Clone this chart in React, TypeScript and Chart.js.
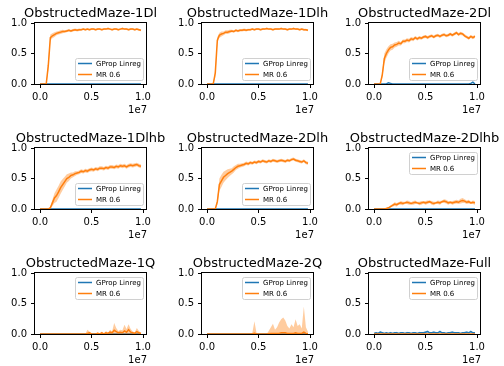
import React, { useEffect, useRef } from "react";
import { Chart, registerables } from "chart.js";

Chart.register(...registerables);

// x positions, in millions of environment steps
const STEPS_M = [
  0, 0.2, 0.4, 0.6, 0.8, 1, 1.2, 1.4, 1.6, 1.8,
  2, 2.2, 2.4, 2.6, 2.8, 3, 3.2, 3.4, 3.6, 3.8,
  4, 4.2, 4.4, 4.6, 4.8, 5, 5.2, 5.4, 5.6, 5.8,
  6, 6.2, 6.4, 6.6, 6.8, 7, 7.2, 7.4, 7.6, 7.8,
  8, 8.2, 8.4, 8.6, 8.8, 9, 9.2, 9.4, 9.6, 9.8,
];

const TITLES = [
  "ObstructedMaze-1Dl",
  "ObstructedMaze-1Dlh",
  "ObstructedMaze-2Dl",
  "ObstructedMaze-1Dlhb",
  "ObstructedMaze-2Dlh",
  "ObstructedMaze-2Dlhb",
  "ObstructedMaze-1Q",
  "ObstructedMaze-2Q",
  "ObstructedMaze-Full",
];
const LEGEND_LOC = ["lower", "lower", "lower", "lower", "lower", "upper", "upper", "upper", "upper"];
const GP_LABEL = "GProp Linreg";
const MR_LABEL = "MR 0.6";
const X_TICKS = [0, 5e6, 1e7];
const Y_TICKS = [0, 0.5, 1];
const X_OFFSET_TEXT = "1e7";

const ZEROS = [
  0, 0, 0, 0, 0, 0, 0, 0, 0, 0,
  0, 0, 0, 0, 0, 0, 0, 0, 0, 0,
  0, 0, 0, 0, 0, 0, 0, 0, 0, 0,
  0, 0, 0, 0, 0, 0, 0, 0, 0, 0,
  0, 0, 0, 0, 0, 0, 0, 0, 0, 0,
];

const MR_1DL = [
  0, 0, 0, 0, 0.3, 0.76, 0.79, 0.81, 0.83, 0.84,
  0.85, 0.86, 0.86, 0.87, 0.88, 0.87, 0.88, 0.89, 0.88, 0.89,
  0.89, 0.9, 0.89, 0.9, 0.89, 0.9, 0.9, 0.89, 0.9, 0.9,
  0.89, 0.9, 0.9, 0.91, 0.9, 0.89, 0.9, 0.9, 0.89, 0.9,
  0.91, 0.9, 0.9, 0.89, 0.9, 0.9, 0.89, 0.9, 0.89, 0.88,
];
const MR_1DL_STD = [
  0, 0, 0, 0, 0.08, 0.05, 0.04, 0.04, 0.03, 0.03,
  0.03, 0.03, 0.02, 0.02, 0.02, 0.02, 0.02, 0.02, 0.02, 0.02,
  0.015, 0.015, 0.015, 0.015, 0.015, 0.015, 0.015, 0.015, 0.015, 0.015,
  0.015, 0.015, 0.015, 0.015, 0.015, 0.015, 0.015, 0.015, 0.015, 0.015,
  0.015, 0.015, 0.015, 0.015, 0.015, 0.015, 0.015, 0.015, 0.015, 0.015,
];

const MR_1DLH = [
  0, 0, 0, 0, 0.18, 0.72, 0.8, 0.82, 0.83, 0.85,
  0.85, 0.86, 0.87, 0.86, 0.88, 0.87, 0.88, 0.88, 0.89, 0.88,
  0.89, 0.89, 0.9, 0.89, 0.9, 0.9, 0.89, 0.9, 0.9, 0.91,
  0.9, 0.9, 0.89, 0.9, 0.9, 0.9, 0.91, 0.9, 0.9, 0.89,
  0.9, 0.9, 0.91, 0.9, 0.9, 0.89, 0.9, 0.89, 0.89, 0.88,
];
const MR_1DLH_STD = [
  0, 0, 0, 0, 0.07, 0.05, 0.04, 0.04, 0.03, 0.03,
  0.03, 0.03, 0.02, 0.02, 0.02, 0.02, 0.02, 0.02, 0.02, 0.02,
  0.015, 0.015, 0.015, 0.015, 0.015, 0.015, 0.015, 0.015, 0.015, 0.015,
  0.015, 0.015, 0.015, 0.015, 0.015, 0.015, 0.015, 0.015, 0.015, 0.015,
  0.015, 0.015, 0.015, 0.015, 0.015, 0.015, 0.015, 0.015, 0.015, 0.015,
];

const MR_2DL = [
  0, 0, 0, 0, 0.15, 0.42, 0.5, 0.56, 0.6, 0.61,
  0.64, 0.65, 0.67, 0.66, 0.7, 0.7, 0.72, 0.71, 0.74, 0.73,
  0.76, 0.74, 0.76, 0.75, 0.77, 0.78, 0.76, 0.78, 0.79, 0.77,
  0.79, 0.8, 0.78, 0.8, 0.81, 0.79, 0.8, 0.82, 0.8, 0.82,
  0.84, 0.81, 0.83, 0.82, 0.79, 0.77, 0.75, 0.78, 0.76, 0.78,
];
const MR_2DL_STD = [
  0, 0, 0, 0, 0.05, 0.08, 0.07, 0.06, 0.05, 0.05,
  0.04, 0.04, 0.04, 0.03, 0.03, 0.03, 0.03, 0.03, 0.03, 0.03,
  0.025, 0.025, 0.025, 0.025, 0.025, 0.025, 0.025, 0.025, 0.025, 0.025,
  0.025, 0.025, 0.025, 0.025, 0.025, 0.025, 0.025, 0.025, 0.025, 0.025,
  0.025, 0.025, 0.025, 0.025, 0.025, 0.025, 0.025, 0.025, 0.025, 0.025,
];
const GP_2DL = [
  0, 0, 0, 0, 0, 0, 0, 0.02, 0.01, 0,
  0, 0, 0, 0, 0, 0, 0, 0, 0, 0,
  0, 0, 0, 0, 0, 0, 0, 0, 0, 0,
  0, 0, 0, 0, 0, 0, 0, 0, 0, 0,
  0, 0, 0, 0, 0, 0, 0, 0.01, 0.03, 0,
];

const MR_1DLHB = [
  0, 0, 0, 0, 0, 0.02, 0.1, 0.18, 0.22, 0.28,
  0.35, 0.4, 0.45, 0.5, 0.52, 0.55, 0.56, 0.58, 0.59, 0.6,
  0.62, 0.61, 0.63, 0.62, 0.64, 0.65, 0.64, 0.66, 0.65, 0.67,
  0.67, 0.66, 0.68, 0.67, 0.69, 0.69, 0.68, 0.7, 0.69, 0.71,
  0.7, 0.71, 0.69, 0.71, 0.72, 0.71, 0.72, 0.73, 0.71, 0.7,
];
const MR_1DLHB_STD = [
  0, 0, 0, 0, 0, 0.02, 0.05, 0.08, 0.1, 0.1,
  0.1, 0.09, 0.08, 0.07, 0.06, 0.05, 0.04, 0.04, 0.03, 0.03,
  0.03, 0.03, 0.03, 0.03, 0.03, 0.03, 0.03, 0.03, 0.03, 0.03,
  0.03, 0.03, 0.03, 0.03, 0.03, 0.03, 0.03, 0.03, 0.03, 0.03,
  0.03, 0.03, 0.03, 0.03, 0.03, 0.03, 0.03, 0.03, 0.03, 0.03,
];

const MR_2DLH = [
  0, 0, 0, 0, 0, 0.12, 0.4, 0.46, 0.52, 0.55,
  0.58, 0.6, 0.62, 0.65, 0.68, 0.7, 0.71, 0.72, 0.73, 0.75,
  0.74, 0.76, 0.75, 0.77, 0.76, 0.78, 0.77, 0.79, 0.78, 0.77,
  0.79, 0.78, 0.8, 0.79, 0.78, 0.79, 0.8, 0.79, 0.78, 0.8,
  0.79, 0.81, 0.82, 0.8, 0.79, 0.78, 0.77, 0.79, 0.76, 0.75,
];
const MR_2DLH_STD = [
  0, 0, 0, 0, 0, 0.05, 0.1, 0.1, 0.09, 0.08,
  0.07, 0.06, 0.05, 0.05, 0.04, 0.04, 0.03, 0.03, 0.03, 0.03,
  0.025, 0.025, 0.025, 0.025, 0.025, 0.025, 0.025, 0.025, 0.025, 0.025,
  0.025, 0.025, 0.025, 0.025, 0.025, 0.025, 0.025, 0.025, 0.025, 0.025,
  0.025, 0.025, 0.025, 0.025, 0.025, 0.025, 0.025, 0.025, 0.025, 0.025,
];

const MR_2DLHB = [
  0, 0, 0, 0, 0, 0, 0.01, 0.02, 0.04, 0.06,
  0.08, 0.07, 0.09, 0.1, 0.09, 0.1, 0.11, 0.1, 0.09, 0.1,
  0.11, 0.1, 0.09, 0.1, 0.11, 0.1, 0.11, 0.12, 0.1, 0.09,
  0.1, 0.11, 0.1, 0.12, 0.13, 0.12, 0.1, 0.11, 0.1, 0.11,
  0.12, 0.11, 0.13, 0.14, 0.13, 0.11, 0.12, 0.1, 0.11, 0.1,
];
const MR_2DLHB_STD = [
  0, 0, 0, 0, 0, 0, 0.01, 0.01, 0.02, 0.02,
  0.03, 0.03, 0.02, 0.03, 0.03, 0.02, 0.03, 0.03, 0.02, 0.03,
  0.03, 0.02, 0.03, 0.03, 0.02, 0.03, 0.03, 0.02, 0.03, 0.03,
  0.02, 0.03, 0.03, 0.02, 0.03, 0.03, 0.03, 0.02, 0.03, 0.03,
  0.03, 0.03, 0.04, 0.04, 0.03, 0.03, 0.03, 0.02, 0.03, 0.03,
];

const MR_1Q = [
  0, 0, 0, 0, 0, 0, 0, 0, 0, 0,
  0, 0, 0, 0, 0, 0, 0, 0, 0, 0,
  0, 0, 0, 0.01, 0.02, 0, 0, 0, 0.01, 0,
  0.02, 0, 0.02, 0.01, 0.03, 0.02, 0.06, 0.04, 0.02, 0.03,
  0.02, 0.05, 0.03, 0.07, 0.03, 0.02, 0.01, 0.04, 0.02, 0.01,
];
const MR_1Q_STD = [
  0, 0, 0, 0, 0, 0, 0, 0, 0, 0,
  0, 0, 0, 0, 0, 0, 0, 0, 0, 0,
  0, 0, 0, 0.06, 0.02, 0, 0, 0, 0.02, 0,
  0.02, 0, 0.03, 0.01, 0.04, 0.02, 0.12, 0.06, 0.03, 0.04,
  0.04, 0.1, 0.05, 0.09, 0.05, 0.02, 0.02, 0.06, 0.03, 0.01,
];

const MR_2Q = [
  0, 0, 0, 0, 0, 0, 0, 0, 0, 0,
  0, 0, 0, 0, 0, 0, 0, 0, 0, 0,
  0, 0, 0, 0.01, 0, 0, 0, 0, 0, 0,
  0.005, 0.01, 0.01, 0.01, 0.01, 0.01, 0.02, 0.02, 0.02, 0.01,
  0.01, 0.01, 0.01, 0.02, 0.01, 0.01, 0.01, 0.03, 0.01, 0.005,
];
const MR_2Q_STD = [
  0, 0, 0, 0, 0, 0, 0, 0, 0, 0,
  0, 0, 0, 0, 0, 0, 0, 0, 0, 0,
  0, 0, 0.02, 0.2, 0.02, 0, 0, 0, 0, 0,
  0.05, 0.1, 0.16, 0.06, 0.1, 0.18, 0.22, 0.25, 0.2, 0.12,
  0.08, 0.15, 0.1, 0.22, 0.12, 0.15, 0.08, 0.42, 0.1, 0.03,
];

const GP_FULL = [
  0.01, 0.02, 0.01, 0.03, 0.02, 0.01, 0.02, 0.01, 0.02, 0.01,
  0.02, 0.02, 0.01, 0.02, 0.02, 0.01, 0.02, 0.02, 0.01, 0.02,
  0.02, 0.01, 0.02, 0.02, 0.02, 0.03, 0.04, 0.02, 0.02, 0.03,
  0.02, 0.02, 0.04, 0.02, 0.02, 0.01, 0.02, 0.02, 0.03, 0.02,
  0.02, 0.02, 0.01, 0.02, 0.02, 0.03, 0.02, 0.04, 0.02, 0.02,
];
const GP_FULL_STD = [
  0.01, 0.01, 0.01, 0.015, 0.01, 0.01, 0.01, 0.01, 0.015, 0.01,
  0.01, 0.015, 0.01, 0.01, 0.01, 0.01, 0.015, 0.01, 0.01, 0.01,
  0.01, 0.01, 0.015, 0.01, 0.01, 0.015, 0.02, 0.01, 0.01, 0.015,
  0.01, 0.01, 0.02, 0.01, 0.01, 0.01, 0.01, 0.015, 0.015, 0.01,
  0.01, 0.01, 0.01, 0.01, 0.015, 0.015, 0.01, 0.02, 0.01, 0.01,
];

// per-subplot series: [GProp mean, GProp std, MR mean, MR std]
const SERIES = [
  [ZEROS, ZEROS, MR_1DL, MR_1DL_STD],
  [ZEROS, ZEROS, MR_1DLH, MR_1DLH_STD],
  [GP_2DL, ZEROS, MR_2DL, MR_2DL_STD],
  [ZEROS, ZEROS, MR_1DLHB, MR_1DLHB_STD],
  [ZEROS, ZEROS, MR_2DLH, MR_2DLH_STD],
  [ZEROS, ZEROS, MR_2DLHB, MR_2DLHB_STD],
  [ZEROS, ZEROS, MR_1Q, MR_1Q_STD],
  [ZEROS, ZEROS, MR_2Q, MR_2Q_STD],
  [GP_FULL, GP_FULL_STD, ZEROS, ZEROS],
];

const BLUE = "#1f77b4";
const BLUE_FILL = "rgba(31,119,180,0.3)";
const ORANGE = "#ff7f0e";
const ORANGE_FILL = "rgba(255,127,14,0.4)";
const FONT = "DejaVu Sans";

const CELL_W = 167;
const CELL_H = 125;

const pts = (vals: number[], std: number[] | null, sign: number) =>
  vals.map((v, i) => ({ x: STEPS_M[i] * 1e6, y: std ? v + sign * std[i] : v }));

const decorPlugin = {
  id: "decor",
  afterDatasetsDraw(chart: any, _args: any, opts: any) {
    const { ctx } = chart;
    const { left, top, right, bottom } = chart.chartArea;
    ctx.save();
    // spines
    ctx.strokeStyle = "#000";
    ctx.lineWidth = 1;
    ctx.strokeRect(left - 0.5, top - 0.5, right - left + 1, bottom - top + 1);

    // legend
    const items = chart.data.datasets.filter((d: any) => d.label);
    const boxW = 68;
    const boxH = 22;
    const bx = right - 3 - boxW;
    const by = opts.legend === "upper" ? top + 4 : bottom - 4 - boxH;
    ctx.beginPath();
    ctx.roundRect(bx + 0.5, by + 0.5, boxW, boxH, 2);
    ctx.fillStyle = "rgba(255,255,255,0.8)";
    ctx.fill();
    ctx.strokeStyle = "#d0d0d0";
    ctx.lineWidth = 1;
    ctx.stroke();
    ctx.font = `7px "${FONT}"`;
    ctx.textAlign = "left";
    ctx.textBaseline = "middle";
    items.forEach((d: any, i: number) => {
      const ly = by + 5.5 + i * 11;
      ctx.beginPath();
      ctx.moveTo(bx + 3, ly);
      ctx.lineTo(bx + 17, ly);
      ctx.strokeStyle = d.borderColor;
      ctx.lineWidth = 1.5;
      ctx.stroke();
      ctx.fillStyle = "#000";
      ctx.fillText(d.label, bx + 21, ly + 0.5);
    });

    // title
    ctx.fillStyle = "#000";
    ctx.font = `13px "${FONT}"`;
    ctx.textAlign = "center";
    ctx.textBaseline = "alphabetic";
    ctx.fillText(opts.title, (left + right) / 2, top - 6);

    // offset text
    ctx.font = `10px "${FONT}"`;
    ctx.textAlign = "right";
    ctx.fillText(X_OFFSET_TEXT, right + 1, bottom + 29);
    ctx.restore();
  },
};

function SubPlot({ index }: { index: number }) {
  const ref = useRef<HTMLCanvasElement | null>(null);
  useEffect(() => {
    if (!ref.current) return;
    const [gp, gpStd, mr, mrStd] = SERIES[index];
    const line = (color: string) => ({
      borderColor: color,
      borderWidth: 1.5,
      pointRadius: 0,
      fill: false,
      tension: 0,
    });
    const band = (color: string, fill: any) => ({
      label: "",
      borderWidth: 0,
      borderColor: "rgba(0,0,0,0)",
      backgroundColor: color,
      pointRadius: 0,
      fill,
      tension: 0,
    });
    const tickFont = { family: FONT, size: 10 };
    const chart = new Chart(ref.current, {
      type: "line",
      data: {
        datasets: [
          { ...line(BLUE), label: GP_LABEL, data: pts(gp, null, 0), order: 4 },
          { ...band(BLUE_FILL, "+1"), data: pts(gp, gpStd, 1), order: 5 },
          { ...band(BLUE_FILL, false), data: pts(gp, gpStd, -1), order: 6 },
          { ...line(ORANGE), label: MR_LABEL, data: pts(mr, null, 0), order: 1 },
          { ...band(ORANGE_FILL, "+1"), data: pts(mr, mrStd, 1), order: 2 },
          { ...band(ORANGE_FILL, false), data: pts(mr, mrStd, -1), order: 3 },
        ] as any,
      },
      options: {
        responsive: false,
        animation: false,
        devicePixelRatio: 1,
        layout: { padding: { top: 23, right: CELL_W - 146, left: 0, bottom: 0 } },
        plugins: {
          legend: { display: false },
          tooltip: { enabled: false },
          title: { display: false },
          decor: { title: TITLES[index], legend: LEGEND_LOC[index] },
        } as any,
        scales: {
          x: {
            type: "linear",
            min: -0.049e7,
            max: 1.029e7,
            afterBuildTicks: (s: any) => {
              s.ticks = X_TICKS.map((v) => ({ value: v }));
            },
            afterFit: (s: any) => {
              s.height = CELL_H - 84;
            },
            ticks: {
              callback: (v: any) => (Number(v) / 1e7).toFixed(1),
              font: tickFont,
              color: "#000",
              padding: 3,
              maxRotation: 0,
              autoSkip: false,
            },
            grid: { drawOnChartArea: false, drawTicks: true, tickLength: 4, color: "#000", lineWidth: 1 },
            border: { display: false },
          },
          y: {
            type: "linear",
            min: 0,
            max: 1,
            afterBuildTicks: (s: any) => {
              s.ticks = Y_TICKS.map((v) => ({ value: v }));
            },
            afterFit: (s: any) => {
              s.width = 35;
            },
            ticks: {
              callback: (v: any) => Number(v).toFixed(1),
              font: tickFont,
              color: "#000",
              padding: 4,
              autoSkip: false,
            },
            grid: { drawOnChartArea: false, drawTicks: true, tickLength: 4, color: "#000", lineWidth: 1 },
            border: { display: false },
          },
        },
      } as any,
      plugins: [decorPlugin],
    });
    return () => chart.destroy();
  }, [index]);
  const r = Math.floor(index / 3);
  const c = index % 3;
  return (
    <canvas
      ref={ref}
      width={CELL_W}
      height={CELL_H}
      style={{ position: "absolute", left: c * CELL_W, top: r * CELL_H, width: CELL_W, height: CELL_H, display: "block" }}
    />
  );
}

export default function App() {
  return (
    <div
      style={{
        position: "fixed",
        left: 0,
        top: 0,
        width: 504,
        height: 366,
        background: "#fff",
        overflow: "hidden",
      }}
    >
      {TITLES.map((_, i) => (
        <SubPlot key={i} index={i} />
      ))}
    </div>
  );
}
